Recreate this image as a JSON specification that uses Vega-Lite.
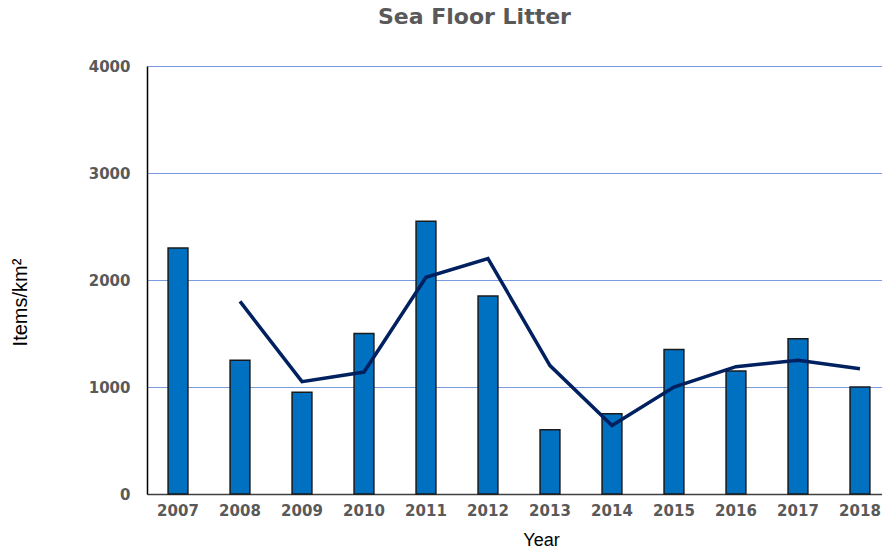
{
  "$schema": "https://vega.github.io/schema/vega-lite/v6.json",
  "width": 735,
  "height": 428,
  "autosize": {"type": "none"},
  "padding": {"left": 147, "top": 66, "right": 0, "bottom": 55},
  "background": "white",
  "title": {
    "text": "Sea Floor Litter",
    "anchor": "start",
    "frame": "group",
    "dx": 231,
    "offset": 30,
    "font": "DejaVu Sans",
    "fontSize": 22,
    "fontWeight": "bold",
    "color": "#595959"
  },
  "data": {
    "values": [
      {"year": "2007", "items": 2300, "avg": null},
      {"year": "2008", "items": 1250, "avg": 1800},
      {"year": "2009", "items": 950, "avg": 1050},
      {"year": "2010", "items": 1500, "avg": 1140},
      {"year": "2011", "items": 2550, "avg": 2025},
      {"year": "2012", "items": 1850, "avg": 2200},
      {"year": "2013", "items": 600, "avg": 1200},
      {"year": "2014", "items": 750, "avg": 640},
      {"year": "2015", "items": 1350, "avg": 1000},
      {"year": "2016", "items": 1150, "avg": 1190},
      {"year": "2017", "items": 1450, "avg": 1250},
      {"year": "2018", "items": 1000, "avg": 1170}
    ]
  },
  "encoding": {
    "x": {
      "field": "year",
      "type": "ordinal",
      "scale": {"paddingInner": 0.68, "paddingOuter": 0.2677, "align": 0.635},
      "axis": {
        "title": "Year",
        "labelAngle": 0,
        "ticks": false,
        "grid": false,
        "domainColor": "#404040",
        "domainWidth": 1.5,
        "labelFont": "DejaVu Sans",
        "labelFontSize": 15,
        "labelFontWeight": "bold",
        "labelColor": "#595959",
        "labelPadding": 9,
        "titleFont": "Liberation Sans",
        "titleFontSize": 18,
        "titleFontWeight": "normal",
        "titleColor": "black",
        "titleX": 394,
        "titleY": 46,
        "titleBaseline": "middle"
      }
    }
  },
  "layer": [
    {
      "mark": {"type": "bar", "color": "#0070c0", "stroke": "#1a1a1a", "strokeWidth": 1.5},
      "encoding": {
        "y": {
          "field": "items",
          "type": "quantitative",
          "scale": {"domain": [0, 4000]},
          "axis": {
            "title": "Items/km²",
            "values": [0, 1000, 2000, 3000, 4000],
            "format": "d",
            "ticks": false,
            "grid": true,
            "gridColor": "#7b9be0",
            "gridWidth": 1,
            "domainColor": "black",
            "domainWidth": 1.5,
            "labelFont": "DejaVu Sans",
            "labelFontSize": 15,
            "labelFontWeight": "bold",
            "labelColor": "#595959",
            "labelPadding": 17,
            "titleFont": "Liberation Sans",
            "titleFontSize": 20,
            "titleFontWeight": "normal",
            "titleColor": "black",
            "titleX": -127,
            "titleY": 236,
            "titleAngle": 270,
            "titleAlign": "center",
            "titleBaseline": "middle"
          }
        }
      }
    },
    {
      "mark": {"type": "line", "color": "#002060", "strokeWidth": 3.5},
      "encoding": {
        "y": {"field": "avg", "type": "quantitative"}
      }
    }
  ],
  "config": {
    "view": {"stroke": null}
  }
}
